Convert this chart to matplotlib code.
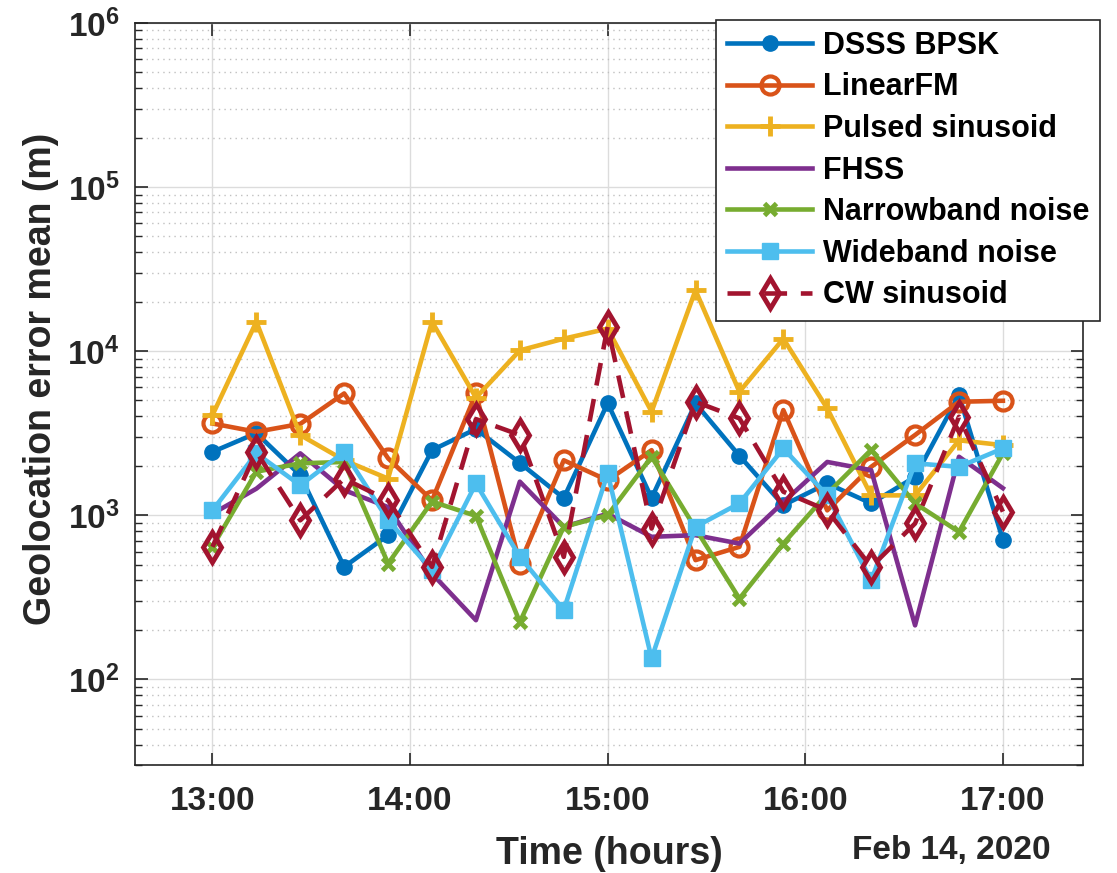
import numpy as np
import pandas as pd
import matplotlib
matplotlib.use("Agg")
import matplotlib.pyplot as plt
import matplotlib.dates as mdates
from matplotlib.ticker import LogLocator, NullFormatter

# sample times: 19 evenly spaced points 13:00 .. 17:00 on Feb 14, 2020
times = pd.date_range("2020-02-14 13:00", "2020-02-14 17:00", periods=19)

dsss_bpsk = [2430, 3160, 1750, 484, 755, 2490, 3350, 2080, 1270, 4820, 1270,
             4800, 2300, 1150, 1560, 1180, 1710, 5400, 705]
linear_fm = [3620, 3220, 3600, 5520, 2220, 1230, 5520, 507, 2160, 1630, 2490,
             532, 641, 4370, 1070, 1970, 3080, 4910, 4980]
pulsed_sin = [4070, 15100, 3080, 2160, 1670, 15100, 5200, 10100, 11900, 13700,
              4270, 23500, 5650, 11900, 4470, 1320, 1320, 2860, 2670]
fhss = [1020, 1450, 2380, 1420, 1120, 440, 229, 1600, 849, 1020, 738, 755,
        671, 1200, 2110, 1880, 213, 2270, 1460]
narrowband = [641, 1840, 2070, 2110, 507, 1210, 990, 223, 849, 1000, 2270,
              829, 310, 671, 1350, 2500, 1180, 791, 2380]
wideband = [1070, 2380, 1520, 2430, 932, 462, 1560, 557, 264, 1800, 134, 849,
            1180, 2550, 1320, 400, 2070, 1970, 2550]
cw_sin = [641, 2430, 930, 1670, 1230, 484, 3850, 3080, 557, 14100, 829, 4910,
          3890, 1390, 1070, 484, 890, 3980, 1050]

labels = ["DSSS BPSK", "LinearFM", "Pulsed sinusoid", "FHSS",
          "Narrowband noise", "Wideband noise", "CW sinusoid"]

plt.rcParams['font.family'] = ['Liberation Sans', 'DejaVu Sans']
plt.rcParams['font.weight'] = 'bold'
plt.rcParams['mathtext.default'] = 'bf'

fig = plt.figure(figsize=(11.17, 8.73), dpi=100)
ax = fig.add_axes([0.1209, 0.1237, 0.8487, 0.850])

lw = 3.3
ax.plot(times, dsss_bpsk, color='#0072BD', lw=lw, marker='o', ms=11, label=labels[0])
ax.plot(times, linear_fm, color='#D95319', lw=lw, marker='o', ms=13, mfc='none',
        mew=3, label=labels[1])
ax.plot(times, pulsed_sin, color='#EDB120', lw=lw, marker='+', ms=15, mew=3.5,
        label=labels[2])
ax.plot(times, fhss, color='#7E2F8E', lw=lw, label=labels[3])
ax.plot(times, narrowband, color='#77AC30', lw=lw, marker='x', ms=9, mew=3.5,
        label=labels[4])
ax.plot(times, wideband, color='#4DBEEE', lw=lw, marker='s', ms=11, label=labels[5])
ax.plot(times, cw_sin, color='#A2142F', lw=lw, marker='d', ms=15, mfc='none',
        mew=3.5, dashes=(5, 3), label=labels[6])

ax.set_yscale('log')
ax.set_ylim(30, 1e6)
ax.set_xlim(pd.Timestamp("2020-02-14 12:36:30"), pd.Timestamp("2020-02-14 17:24:20"))

ax.xaxis.set_major_locator(mdates.HourLocator())
ax.xaxis.set_major_formatter(mdates.DateFormatter('%H:%M'))
ax.yaxis.set_major_locator(LogLocator(base=10, numticks=10))
ax.yaxis.set_minor_locator(LogLocator(base=10, subs=np.arange(2, 10), numticks=20))
ax.yaxis.set_minor_formatter(NullFormatter())

ax.xaxis.grid(True, which='major', color='#dcdcdc', lw=1)
ax.yaxis.grid(True, which='major', color='#dcdcdc', lw=1)
ax.yaxis.grid(True, which='minor', color='#c0c0c0', lw=1, linestyle=(0, (1, 3)))
ax.set_axisbelow(True)

for s in ax.spines.values():
    s.set_color('#262626')
    s.set_linewidth(1.2)
ax.tick_params(which='both', direction='in', top=True, right=True, colors='#262626',
               labelsize=24, labelcolor='#262626')
ax.tick_params(which='major', length=9, width=1.2)
ax.tick_params(axis='x', which='major', pad=15)
ax.tick_params(axis='y', which='major', pad=11)
ax.tick_params(which='minor', length=5, width=1)

ax.set_ylabel('Geolocation error mean (m)', fontsize=27, fontweight='bold',
              color='#262626', labelpad=6)
ax.yaxis.label.set_y(0.52)
ax.set_xlabel('Time (hours)', fontsize=27, fontweight='bold', color='#262626',
              labelpad=14)
ax.text(0.966, -0.115, 'Feb 14, 2020', transform=ax.transAxes, ha='right',
        va='center', fontsize=24, fontweight='bold', color='#262626')

leg = ax.legend(loc='upper right', bbox_to_anchor=(1.018, 1.004), borderaxespad=0,
                fontsize=22, frameon=True, fancybox=False, framealpha=1,
                edgecolor='#262626', handlelength=2.8, labelspacing=0.38,
                borderpad=0.35, handletextpad=0.35)
leg.get_frame().set_linewidth(1.2)

fig.savefig('out.png', dpi=100)
